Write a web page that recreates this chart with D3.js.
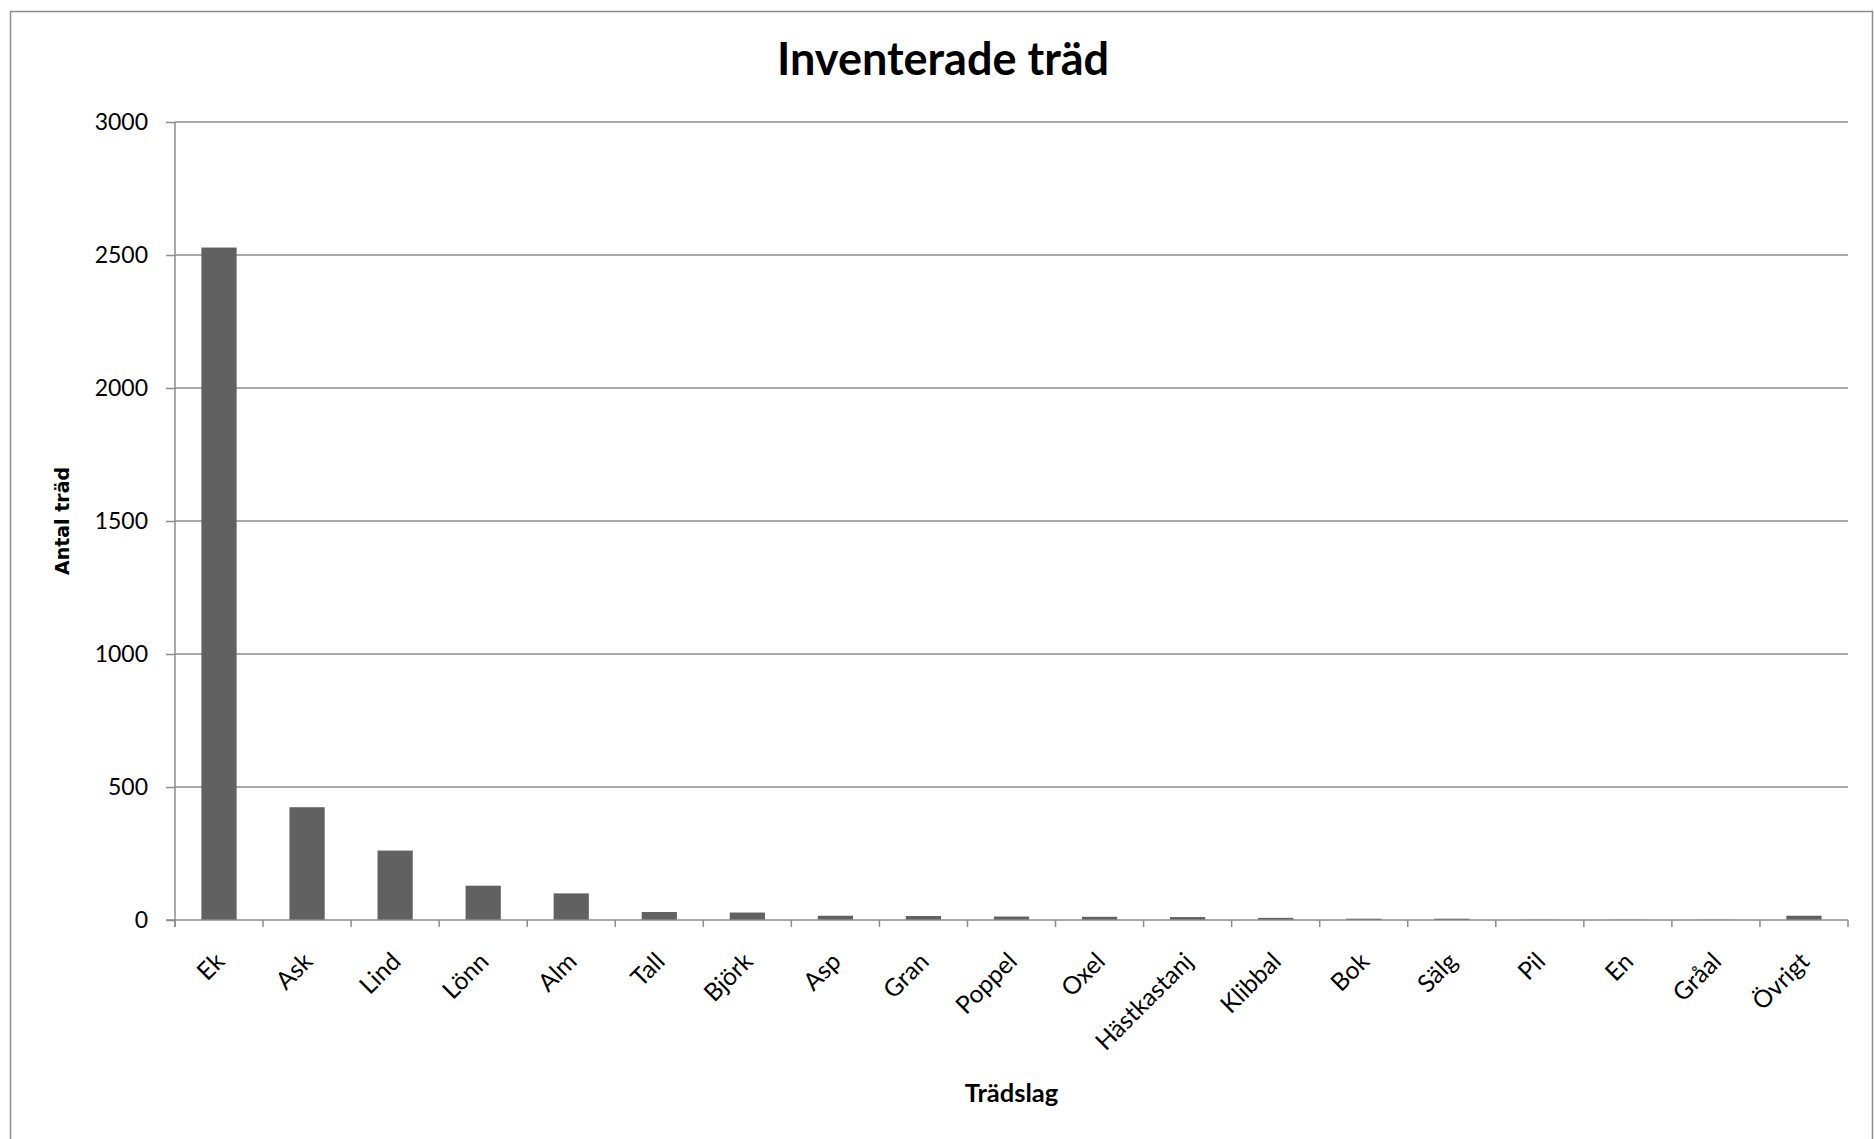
<!DOCTYPE html>
<html>
<head>
<meta charset="utf-8">
<script src="https://cdn.jsdelivr.net/npm/d3@7"></script>
<style>
  body { margin: 0; background: #fff; }
  text { font-family: Lato, "Open Sans", sans-serif; fill: #000; }
</style>
</head>
<body>
<svg width="1874" height="1139"></svg>
<script>
// Data
const species = ["Ek", "Ask", "Lind", "Lönn", "Alm", "Tall", "Björk", "Asp", "Gran", "Poppel",
                 "Oxel", "Hästkastanj", "Klibbal", "Bok", "Sälg", "Pil", "En", "Gråal", "Övrigt"];
const counts = [2528, 424, 261, 129, 100, 30, 28, 16, 15, 13, 12, 11, 8, 5, 5, 1, 1, 1, 16];
const yTicks = [0, 500, 1000, 1500, 2000, 2500, 3000];

const svg = d3.select("svg");
const margin = { left: 175, right: 26, top: 122, bottom: 219 };
const width = +svg.attr("width");
const height = +svg.attr("height");
const x0 = margin.left, x1 = width - margin.right;
const y0 = height - margin.bottom, y1 = margin.top;

// Outer chart border (bottom edge runs off the picture)
svg.append("rect")
    .attr("x", 10.5).attr("y", 11.5)
    .attr("width", 1862).attr("height", 1200)
    .attr("fill", "none")
    .attr("stroke", "#8c8c8c")
    .attr("stroke-width", 1.5);

const x = d3.scaleBand()
    .domain(species)
    .range([x0, x1])
    .paddingInner(0.6)
    .paddingOuter(0.3);

const y = d3.scaleLinear()
    .domain([0, 3000])
    .range([y0, y1]);

// Horizontal gridlines
svg.append("g")
    .selectAll("line")
    .data(yTicks.filter(d => d > 0))
    .enter()
    .append("line")
    .attr("x1", x0).attr("x2", x1)
    .attr("y1", d => y(d)).attr("y2", d => y(d))
    .attr("stroke", "#8c8c8c")
    .attr("stroke-width", 1.5);

// Bars
svg.append("g")
    .selectAll("rect")
    .data(species)
    .enter()
    .append("rect")
    .attr("x", d => x(d))
    .attr("width", x.bandwidth())
    .attr("y", (d, i) => y(counts[i]))
    .attr("height", (d, i) => y0 - y(counts[i]))
    .attr("fill", "#616161");

// Y axis
const yAxis = svg.append("g")
    .attr("transform", `translate(${x0},0)`)
    .call(d3.axisLeft(y).tickValues(yTicks).tickSize(9).tickPadding(18).tickFormat(d3.format("d")));
yAxis.select(".domain").attr("stroke", "#8c8c8c").attr("stroke-width", 1.5)
    .attr("d", `M0,${y1}V${y0 + 7}`);
yAxis.selectAll(".tick line").attr("stroke", "#8c8c8c").attr("stroke-width", 1.5);
yAxis.selectAll(".tick text")
    .style("font-family", "Lato, sans-serif")
    .style("font-size", "23px")
    .attr("fill", "#000");

// X axis line and boundary ticks
const xAxis = svg.append("g");
xAxis.append("line")
    .attr("x1", x0 - 9).attr("x2", x1)
    .attr("y1", y0).attr("y2", y0)
    .attr("stroke", "#8c8c8c")
    .attr("stroke-width", 1.5);
xAxis.selectAll(".bt")
    .data(d3.range(species.length + 1))
    .enter()
    .append("line")
    .attr("x1", i => x0 + i * x.step())
    .attr("x2", i => x0 + i * x.step())
    .attr("y1", y0).attr("y2", y0 + 7)
    .attr("stroke", "#8c8c8c")
    .attr("stroke-width", 1.5);

// Rotated category labels
xAxis.selectAll("text")
    .data(species)
    .enter()
    .append("text")
    .attr("transform", d => `translate(${x(d) + x.bandwidth() / 2 + 7},${y0 + 43}) rotate(-45)`)
    .attr("text-anchor", "end")
    .style("font-size", "24.5px")
    .text(d => d);

// Title and axis titles
svg.append("text")
    .attr("x", 943).attr("y", 75)
    .attr("text-anchor", "middle")
    .style("font-size", "45px")
    .style("font-weight", "bold")
    .text("Inventerade träd");

svg.append("text")
    .attr("x", (x0 + x1) / 2).attr("y", 1102)
    .attr("text-anchor", "middle")
    .style("font-size", "25.5px")
    .style("font-weight", "bold")
    .text("Trädslag");

svg.append("text")
    .attr("transform", `translate(69,${(y0 + y1) / 2}) rotate(-90)`)
    .attr("text-anchor", "middle")
    .style("font-family", "'DejaVu Sans', sans-serif")
    .style("font-size", "19px")
    .style("font-weight", "bold")
    .text("Antal träd");
</script>
</body>
</html>
